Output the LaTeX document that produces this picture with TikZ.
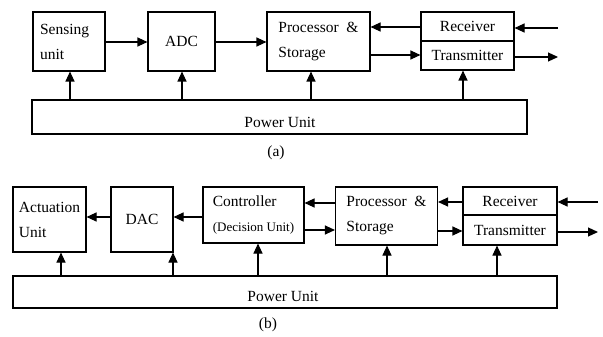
\documentclass[tikz,border=0pt]{standalone}
\usepackage{fontspec}
\setmainfont{Liberation Serif}
\usetikzlibrary{arrows.meta}
\begin{document}
\begin{tikzpicture}[x=1pt,y=-1pt,
  box/.style={draw,line width=1.1pt,inner sep=0pt,align=left,
    font=\fontsize{15.5}{25}\selectfont},
  lbl/.style={font=\fontsize{15.5}{17}\selectfont,inner sep=0pt},
  conn/.style={line width=1.1pt,-{Triangle[length=10pt,width=9pt]}}]
\useasboundingbox (0,0) rectangle (603,337);
% ---------- (a) ----------
\node[box,minimum width=72pt,minimum height=59pt,text width=58pt] (sens) at (69,41.5) {Sensing\\unit};
\node[box,minimum width=67pt,minimum height=59pt] (adc) at (181.5,41.5) {ADC};
\node[box,minimum width=103pt,minimum height=59pt] (proc) at (318.5,41.5) {Processor~~\&\\Storage};
\node[box,minimum width=93pt,minimum height=29pt] (rx) at (467.5,26.5) {Receiver};
\node[box,minimum width=93pt,minimum height=29pt] (tx) at (467.5,55.5) {Transmitter};
\node[box,minimum width=495pt,minimum height=34pt] (pwr) at (279.5,117) {};
\node[lbl] (pwrt) at (280,122) {Power Unit};
\node[lbl] (capa) at (276,153) {(a)};
\coordinate (ina) at (558,28);
\coordinate (outa) at (558,57);
\draw[conn] (sens.east |- 0,42) -- (adc.west |- 0,42);
\draw[conn] (adc.east |- 0,42) -- (proc.west |- 0,42);
\draw[conn] (rx.west |- 0,27) -- (proc.east |- 0,27);
\draw[conn] (proc.east |- 0,55) -- (tx.west |- 0,55);
\draw[conn] (ina) -- (rx.east |- ina);
\draw[conn] (tx.east |- outa) -- (outa);
\draw[conn] (pwr.north -| 70,0) -- (sens.south -| 70,0);
\draw[conn] (pwr.north -| 182,0) -- (adc.south -| 182,0);
\draw[conn] (pwr.north -| 311,0) -- (proc.south -| 311,0);
\draw[conn] (pwr.north -| 463,0) -- (tx.south -| 463,0);
% ---------- (b) ----------
\node[box,minimum width=73pt,minimum height=65pt] (act) at (49.5,219.5) {Actuation\\Unit};
\node[box,minimum width=62pt,minimum height=65pt] (dac) at (142,219.5) {DAC};
\node[box,minimum width=101pt,minimum height=56pt] (ctrl) at (253.5,215) {Controller\\{\fontsize{13}{14}\selectfont (Decision Unit)}};
\node[box,minimum width=102pt,minimum height=58pt] (proc2) at (386.5,216) {Processor~~\&\\Storage};
\node[box,minimum width=94pt,minimum height=28pt] (rx2) at (510,201) {Receiver};
\node[box,minimum width=94pt,minimum height=30pt] (tx2) at (510,230) {Transmitter};
\node[box,minimum width=544pt,minimum height=32pt] (pwr2) at (285,292) {};
\node[lbl] (pwrt2) at (283,296) {Power Unit};
\node[lbl] (capb) at (268,325) {(b)};
\coordinate (inb) at (598,202);
\coordinate (outb) at (598,232);
\draw[conn] (ctrl.west |- 0,217) -- (dac.east |- 0,217);
\draw[conn] (dac.west |- 0,217) -- (act.east |- 0,217);
\draw[conn] (proc2.west |- 0,203) -- (ctrl.east |- 0,203);
\draw[conn] (ctrl.east |- 0,230) -- (proc2.west |- 0,230);
\draw[conn] (rx2.west |- 0,202) -- (proc2.east |- 0,202);
\draw[conn] (proc2.east |- 0,231) -- (tx2.west |- 0,231);
\draw[conn] (inb) -- (rx2.east |- inb);
\draw[conn] (tx2.east |- outb) -- (outb);
\draw[conn] (pwr2.north -| 61,0) -- (act.south -| 61,0);
\draw[conn] (pwr2.north -| 173,0) -- (dac.south -| 173,0);
\draw[conn] (pwr2.north -| 258,0) -- (ctrl.south -| 258,0);
\draw[conn] (pwr2.north -| 387,0) -- (proc2.south -| 387,0);
\draw[conn] (pwr2.north -| 497,0) -- (tx2.south -| 497,0);
\end{tikzpicture}
\end{document}
